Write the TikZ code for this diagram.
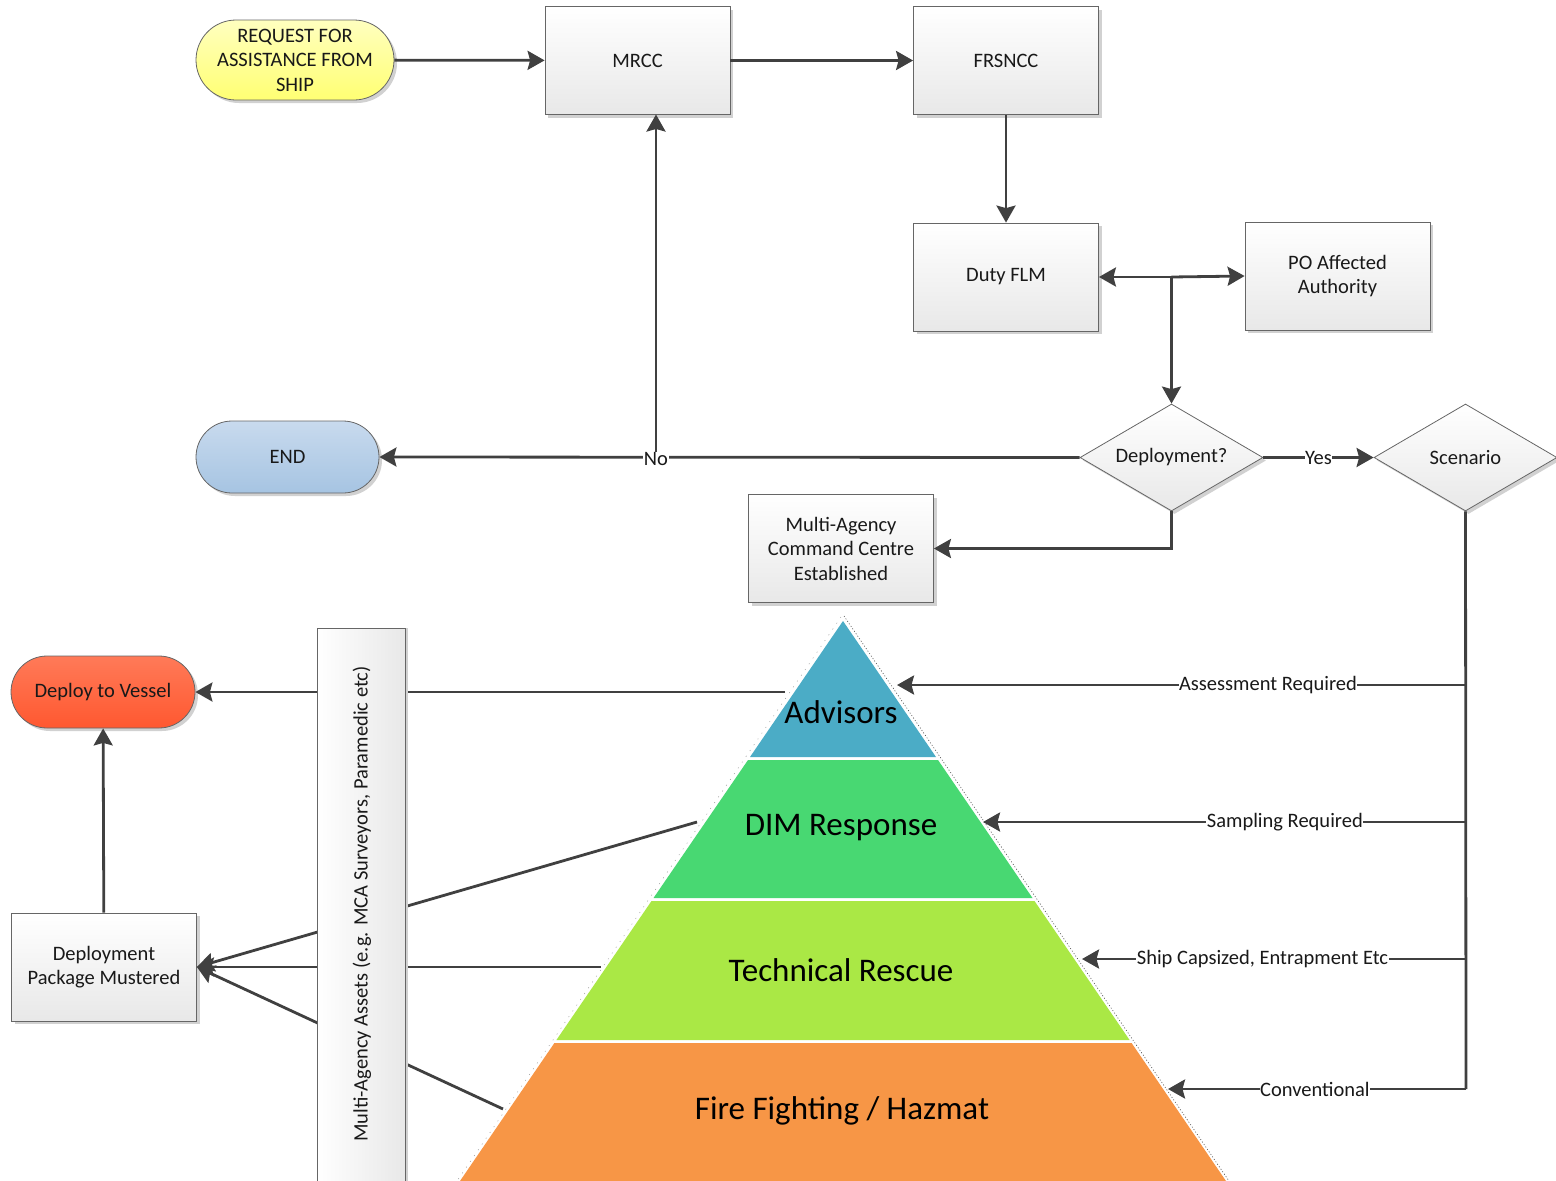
\documentclass[tikz,border=0pt]{standalone}
\usepackage{fontspec}
\setmainfont{Carlito}
\usetikzlibrary{shapes.geometric,arrows.meta,shadows}
\definecolor{ln}{HTML}{404040}
\definecolor{advc}{HTML}{4BACC6}
\definecolor{dimc}{HTML}{48D872}
\definecolor{tecc}{HTML}{AAE845}
\definecolor{firc}{HTML}{F79646}
\definecolor{endtop}{RGB}{200,218,238}
\definecolor{endbot}{RGB}{166,196,226}
\definecolor{redtop}{RGB}{255,122,88}
\definecolor{redbot}{RGB}{255,88,48}
\begin{document}
\begin{tikzpicture}[x=1pt,y=-1pt,
  shad/.style={drop shadow={shadow xshift=3pt,shadow yshift=-3pt,fill=black!18,opacity=1}},
  txt/.style={font=\fontsize{20.5}{24.5}\selectfont, text=black!90, align=center},
  box/.style={txt, draw=black!60, line width=0.8pt, top color=white, bottom color=black!9,
    minimum width=185pt, minimum height=108pt, inner sep=0pt, shad},
  dia/.style={txt, diamond, draw=black!60, line width=0.8pt, top color=white, bottom color=black!9,
    minimum width=183pt, minimum height=107pt, shape aspect=1.71, inner sep=0pt, shad},
  arr/.style={draw=ln, line width=2.8pt, -{Stealth[length=17pt,width=19pt,inset=2.5pt]}},
  plain/.style={draw=ln, line width=2.8pt},
  lab/.style={txt, fill=white, inner sep=0.5pt},
  pyr/.style={font=\fontsize{33}{38}\selectfont, text=black},
]
\useasboundingbox (0,0) rectangle (1556,1181);

% ---------- top flow ----------
\node[txt, draw=black!60, line width=0.8pt, top color=yellow!25, bottom color=yellow!55!white,
  minimum width=198pt, minimum height=80pt, rounded corners=40pt, inner sep=0pt, shad]
  (req) at (295,60) {REQUEST FOR\\ASSISTANCE FROM\\SHIP};
\node[box] (mrcc) at (637.5,60.5) {MRCC};
\node[box] (frs) at (1006,60.5) {FRSNCC};
\node[box] (flm) at (1006,277) {Duty FLM};
\node[box] (po) at (1337.5,276) {PO Affected\\Authority};
\node[dia] (dep) at (1171.5,457.5) {Deployment?};
\node[dia] (scn) at (1465.5,457.5) {Scenario};
\node[txt, draw=black!60, line width=0.8pt, top color=endtop, bottom color=endbot,
  minimum width=183pt, minimum height=72pt, rounded corners=36pt, inner sep=0pt, shad]
  (endn) at (287.5,457) {END};
\node[box] (macc) at (841,548.5) {Multi-Agency\\Command Centre\\Established};

\coordinate (split) at (1171.5,277);
\coordinate (nojoin) at (656,457);
\coordinate (mrccin) at (656,114.5);

\draw[arr] (req) -- (mrcc);
\draw[arr] (mrcc) -- (frs);
\draw[arr] (frs) -- (flm);
\draw[arr] (split) -- (flm.east);
\draw[arr] (split) -- (po.west);
\draw[arr] (split) -- (dep.north);
\draw[arr] (dep.west) -- (endn.east);
\draw[arr] (nojoin) -- (mrccin);
\node[lab] (no) at (656,459) {No};
\draw[arr] (dep.east) -- node[lab] (yes) {Yes} (scn.west);
\draw[arr] (dep.south) |- (macc.east);

% ---------- pyramid ----------
\coordinate (apex) at (843,621);
\fill[advc] (843,621) -- (936,757) -- (750,757) -- cycle;
\fill[dimc] (748,760) -- (938,760) -- (1032.5,898) -- (653.5,898) -- cycle;
\fill[tecc] (651.5,901) -- (1034.5,901) -- (1129.6,1040) -- (556.4,1040) -- cycle;
\fill[firc] (554.4,1043) -- (1131.6,1043) -- (1226,1181) -- (460,1181) -- cycle;
\draw[black!70, line width=0.6pt, dash pattern=on 1pt off 2pt] (844,616) -- (1229,1181);
\draw[black!40, line width=0.5pt, dash pattern=on 1pt off 6pt] (841,617) -- (457,1181);
\node[pyr] (adv) at (841,712) {Advisors};
\node[pyr] (dim) at (841,828) {DIM Response};
\node[pyr] (tec) at (841,970) {Technical Rescue};
\node[pyr] (fir) at (842,1111) {Fire Fighting / Hazmat};

% pyramid side anchors
\coordinate (advL) at (785,692);
\coordinate (dimL) at (697,822);
\coordinate (tecL) at (601,967);
\coordinate (firL) at (503,1109);
\coordinate (advR) at (897,685);
\coordinate (dimR) at (983,822);
\coordinate (tecR) at (1082,959);
\coordinate (firR) at (1168,1089);
\coordinate (s1) at (1466,685);
\coordinate (s2) at (1466,822);
\coordinate (s3) at (1466,959);
\coordinate (s4) at (1466,1089);

% ---------- left side ----------
\node[txt, draw=black!60, line width=0.8pt, top color=redtop, bottom color=redbot,
  minimum width=184pt, minimum height=72pt, rounded corners=36pt, inner sep=0pt, shad]
  (dtv) at (103,692) {Deploy to Vessel};
\node[box] (pkg) at (104,967) {Deployment\\Package Mustered};

\draw[arr] (advL) -- (dtv.east);
\draw[arr] (dimL) -- (pkg.east);
\draw[arr] (tecL) -- (pkg.east);
\draw[arr] (firL) -- (pkg.east);
\draw[arr] (pkg) -- (dtv);

\node[txt, draw=black!60, line width=0.8pt, left color=white, right color=black!9,
  minimum width=88pt, minimum height=570pt, inner sep=0pt, anchor=north,
  drop shadow={shadow xshift=3pt,shadow yshift=0pt,fill=black!18,opacity=1}]
  (bar) at (361,628) {};
\node[txt, rotate=90] (bartxt) at (362,904) {Multi-Agency Assets (e.g. MCA Surveyors, Paramedic etc)};

% ---------- scenario branches ----------
\draw[plain] (scn.south) -- (s4);
\draw[arr] (s1) -- node[lab, pos=0.348] (l1) {Assessment Required} (advR);
\draw[arr] (s2) -- node[lab, pos=0.375] (l2) {Sampling Required} (dimR);
\draw[arr] (s3) -- node[lab, pos=0.53] (l3) {Ship Capsized, Entrapment Etc} (tecR);
\draw[arr] (s4) -- node[lab, pos=0.507] (l4) {Conventional} (firR);
\end{tikzpicture}
\end{document}
